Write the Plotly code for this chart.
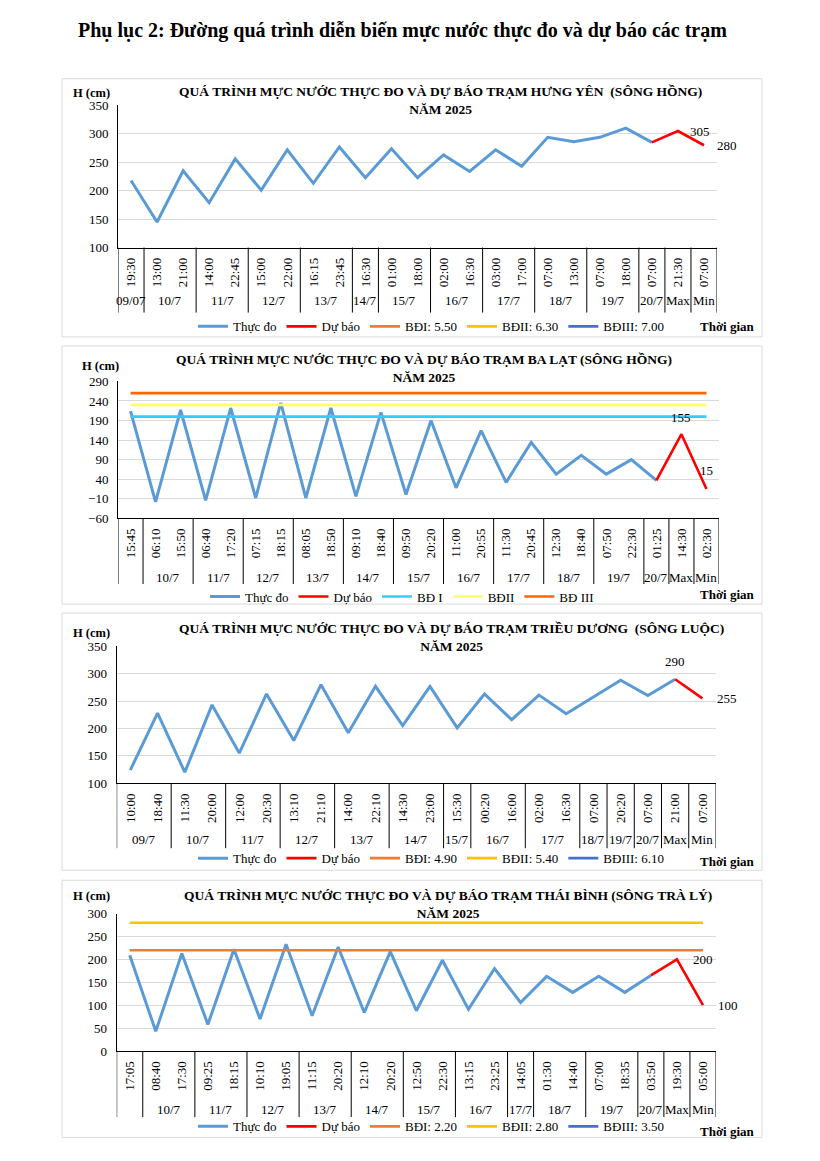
import plotly.graph_objects as go

W, H = 820, 1161          # reference page size
PAD = 8                   # default page body margin
FW, FH = W - 2 * PAD, H - 2 * PAD
# measured vertical calibration of the photographed page (observed = A + B * target)
CAL_A, CAL_B = 7.4, 0.9863
SERIF = "Liberation Serif"

# ---------------- DATA ----------------
main_title = "Phụ lục 2: Đường quá trình diễn biến mực nước thực đo và dự báo các trạm"

# Panel 1 - Hưng Yên (sông Hồng)
hy_title = "QUÁ TRÌNH MỰC NƯỚC THỰC ĐO VÀ DỰ BÁO TRẠM HƯNG YÊN  (SÔNG HỒNG)<br>NĂM 2025"
hy_times = ["19:30", "13:00", "21:00", "14:00", "22:45", "15:00", "22:00", "16:15", "23:45",
            "16:30", "01:00", "18:00", "02:00", "16:30", "03:00", "17:00", "07:00", "13:00",
            "07:00", "18:00", "07:00", "21:30", "07:00"]
hy_dates = ["09/07", "10/7", "10/7", "11/7", "11/7", "12/7", "12/7", "13/7", "13/7",
            "14/7", "15/7", "15/7", "16/7", "16/7", "17/7", "17/7", "18/7", "18/7",
            "19/7", "19/7", "20/7", "Max", "Min"]
hy_measured = [218, 145, 235, 179, 256, 201, 272, 213, 277, 223, 274, 223, 263, 234,
               272, 243, 294, 286, 294, 310, 285, None, None]
hy_forecast = [None] * 20 + [285, 305, 280]
hy_level_names = ["BĐI: 5.50", "BĐII: 6.30", "BĐIII: 7.00"]
hy_levels = [550, 630, 700]

# Panel 2 - Ba Lạt (sông Hồng)
bl_title = "QUÁ TRÌNH MỰC NƯỚC THỰC ĐO VÀ DỰ BÁO TRẠM BA LẠT (SÔNG HỒNG)<br>NĂM 2025"
bl_times = ["15:45", "06:10", "15:50", "06:40", "17:20", "07:15", "18:15", "08:05", "18:50",
            "09:10", "18:40", "09:50", "20:20", "11:00", "20:55", "11:30", "20:45", "12:30",
            "18:40", "07:50", "22:30", "01:25", "14:30", "02:30"]
bl_dates = ["", "10/7", "10/7", "11/7", "11/7", "12/7", "12/7", "13/7", "13/7",
            "14/7", "14/7", "15/7", "15/7", "16/7", "16/7", "17/7", "17/7", "18/7",
            "18/7", "19/7", "19/7", "20/7", "Max", "Min"]
bl_measured = [214, -18, 217, -14, 222, -8, 235, -8, 222, -4, 211, 1, 190, 18, 164, 32,
               134, 53, 101, 53, 90, 37, None, None]
bl_forecast = [None] * 21 + [37, 155, 15]
bl_level_names = ["BĐ I", "BĐII", "BĐ III"]
bl_levels = [200, 230, 260]

# Panel 3 - Triều Dương (sông Luộc)
td_title = "QUÁ TRÌNH MỰC NƯỚC THỰC ĐO VÀ DỰ BÁO TRẠM TRIỀU DƯƠNG  (SÔNG LUỘC)<br>NĂM 2025"
td_times = ["10:00", "18:40", "11:30", "20:00", "12:00", "20:30", "13:10", "21:10", "14:00",
            "22:10", "14:30", "23:00", "15:30", "00:20", "16:00", "02:00", "16:30", "07:00",
            "20:20", "07:00", "21:00", "07:00"]
td_dates = ["09/7", "09/7", "10/7", "10/7", "11/7", "11/7", "12/7", "12/7", "13/7",
            "13/7", "14/7", "14/7", "15/7", "16/7", "16/7", "17/7", "17/7", "18/7",
            "19/7", "20/7", "Max", "Min"]
td_measured = [124, 228, 120, 243, 155, 263, 178, 280, 192, 277, 205, 277, 201, 263,
               216, 261, 227, 258, 288, 260, 290, None]
td_forecast = [None] * 20 + [290, 255]
td_level_names = ["BĐI: 4.90", "BĐII: 5.40", "BĐIII: 6.10"]
td_levels = [490, 540, 610]

# Panel 4 - Thái Bình (sông Trà Lý)
tb_title = "QUÁ TRÌNH MỰC NƯỚC THỰC ĐO VÀ DỰ BÁO TRẠM THÁI BÌNH (SÔNG TRÀ LÝ)<br>NĂM 2025"
tb_times = ["17:05", "08:40", "17:30", "09:25", "18:15", "10:10", "19:05", "11:15", "20:20",
            "12:10", "20:20", "12:50", "22:30", "13:15", "23:25", "14:05", "01:30", "14:40",
            "07:00", "18:35", "03:50", "19:30", "05:00"]
tb_dates = ["", "10/7", "10/7", "11/7", "11/7", "12/7", "12/7", "13/7", "13/7",
            "14/7", "14/7", "15/7", "15/7", "16/7", "16/7", "17/7", "18/7", "18/7",
            "19/7", "19/7", "20/7", "Max", "Min"]
tb_measured = [209, 43, 213, 58, 222, 70, 233, 77, 227, 84, 217, 88, 198, 91, 180, 106,
               163, 128, 163, 128, 165, None, None]
tb_forecast = [None] * 20 + [165, 200, 100]
tb_level_names = ["BĐI: 2.20", "BĐII: 2.80", "BĐIII: 3.50"]
tb_levels = [220, 280, 350]

y_label = "H (cm)"
x_label = "Thời gian"
measured_name = "Thực đo"
forecast_name = "Dự báo"

# ---------------- STYLE / LAYOUT ----------------
panels = [
    dict(title=hy_title, times=hy_times, dates=hy_dates, meas=hy_measured, fc=hy_forecast,
         lnames=hy_level_names, levels=hy_levels, yrange=[100, 350], tick0=100,
         lcolors=["#ED7D31", "#FFC000", "#4472C4"],
         box=(62, 79, 762, 337), plot=(118, 105.7, 717, 247.7), title_xy=(440, 101),
         h_xy=(91, 93), div_bottom=312.7, date_y=301, legend_xy=(431, 326.5), tg_xy=(727, 327),
         lab=[("right", 22, 0), ("right", 23, 0)]),
    dict(title=bl_title, times=bl_times, dates=bl_dates, meas=bl_measured, fc=bl_forecast,
         lnames=bl_level_names, levels=bl_levels, yrange=[-60, 290], tick0=-60,
         lcolors=["#33CCFF", "#FFFF66", "#FF6600"],
         box=(62, 346, 762, 604), plot=(118, 381.5, 719, 518.3), title_xy=(424, 368.5),
         h_xy=(100, 366), div_bottom=584, date_y=577, legend_xy=(402, 596.5), tg_xy=(727, 594),
         lab=[("top", 0, 17), ("top", 0, 18)]),
    dict(title=td_title, times=td_times, dates=td_dates, meas=td_measured, fc=td_forecast,
         lnames=td_level_names, levels=td_levels, yrange=[100, 350], tick0=100,
         lcolors=["#ED7D31", "#FFC000", "#4472C4"],
         box=(62, 613, 762, 870), plot=(116.7, 646.3, 716, 783), title_xy=(451, 637),
         h_xy=(91, 633), div_bottom=848, date_y=839, legend_xy=(431, 858), tg_xy=(727, 861),
         lab=[("top", 0, 18), ("right", 25, 0)]),
    dict(title=tb_title, times=tb_times, dates=tb_dates, meas=tb_measured, fc=tb_forecast,
         lnames=tb_level_names, levels=tb_levels, yrange=[0, 300], tick0=0,
         lcolors=["#ED7D31", "#FFC000", "#4472C4"],
         box=(62, 880, 762, 1137), plot=(116.7, 913.3, 716, 1050.7), title_xy=(448, 904.5),
         h_xy=(91, 896), div_bottom=1116.7, date_y=1109, legend_xy=(431, 1126), tg_xy=(727, 1131),
         lab=[("right", 26, 0), ("right", 25, 0)]),
]


def fx(px):
    return (px - PAD) / FW


def fy(py):
    pc = (py - CAL_A) / CAL_B
    return 1 - (pc - PAD) / FH


fig = go.Figure()
shapes, annotations = [], []
layout_extra = {}

annotations.append(dict(text="<b>" + main_title + "</b>", x=fx(402), y=fy(31), xref="paper",
                        yref="paper", showarrow=False, xanchor="center", yanchor="middle",
                        font=dict(family=SERIF, size=20, color="black")))

for k, p in enumerate(panels):
    sfx = "" if k == 0 else str(k + 1)
    xa, ya = "x" + sfx, "y" + sfx
    leg = "legend" + sfx
    n = len(p["times"])
    idx = list(range(n))
    x0, y0, x1, y1 = p["plot"]

    # box
    bx0, by0, bx1, by1 = p["box"]
    shapes.append(dict(type="rect", xref="paper", yref="paper", x0=fx(bx0), x1=fx(bx1),
                       y0=fy(by1), y1=fy(by0), line=dict(color="#D9D9D9", width=1)))

    fig.add_trace(go.Scatter(x=idx, y=p["meas"], mode="lines", name=measured_name,
                             line=dict(color="#5B9BD5", width=3), xaxis=xa, yaxis=ya,
                             legend=leg, hoverinfo="skip"))
    fig.add_trace(go.Scatter(x=idx, y=p["fc"], mode="lines", name=forecast_name,
                             line=dict(color="#FF0000", width=2.6), xaxis=xa, yaxis=ya,
                             legend=leg, hoverinfo="skip"))
    for nm, lv, col in zip(p["lnames"], p["levels"], p["lcolors"]):
        fig.add_trace(go.Scatter(x=[0, n - 1], y=[lv, lv], mode="lines", name=nm,
                                 line=dict(color=col, width=2.6), xaxis=xa, yaxis=ya,
                                 legend=leg, hoverinfo="skip"))

    layout_extra["xaxis" + sfx] = dict(
        domain=[fx(x0), fx(x1)], anchor=ya, range=[-0.5, n - 0.5], tickmode="array",
        tickvals=idx, ticktext=p["times"], tickangle=-90, showgrid=False, zeroline=False,
        showline=True, linecolor="black", linewidth=1, ticks="", ticklabelstandoff=4,
        tickfont=dict(family=SERIF, size=13, color="black"), fixedrange=True)
    layout_extra["yaxis" + sfx] = dict(
        domain=[fy(y1), fy(y0)], anchor=xa, range=p["yrange"], tick0=p["tick0"], dtick=50,
        showgrid=True, gridcolor="#D9D9D9", gridwidth=1, zeroline=False, showline=True,
        linecolor="black", linewidth=1, ticks="", ticklabelstandoff=6,
        tickfont=dict(family=SERIF, size=13, color="black"), fixedrange=True)

    # group dividers and date labels
    dates = p["dates"]
    starts = [0] + [i for i in range(1, n) if dates[i] != dates[i - 1]]
    ends = starts[1:] + [n]
    for s, e in zip(starts, ends):
        shapes.append(dict(type="line", xref=xa, yref="paper", x0=s - 0.5, x1=s - 0.5,
                           y0=fy(y1), y1=fy(p["div_bottom"]), line=dict(color="black", width=1)))
        if dates[s]:
            annotations.append(dict(text=dates[s], x=(s + e - 1) / 2, xref=xa, y=fy(p["date_y"]),
                                    yref="paper", showarrow=False, xanchor="center",
                                    yanchor="middle",
                                    font=dict(family=SERIF, size=13, color="black")))
    shapes.append(dict(type="line", xref=xa, yref="paper", x0=n - 0.5, x1=n - 0.5,
                       y0=fy(y1), y1=fy(p["div_bottom"]), line=dict(color="black", width=1)))

    # titles
    tx, ty = p["title_xy"]
    annotations.append(dict(text="<b>" + p["title"] + "</b>", x=fx(tx), y=fy(ty), xref="paper",
                            yref="paper", showarrow=False, xanchor="center", yanchor="middle",
                            font=dict(family=SERIF, size=13.5, color="black")))
    hx, hy = p["h_xy"]
    annotations.append(dict(text="<b>" + y_label + "</b>", x=fx(hx), y=fy(hy), xref="paper",
                            yref="paper", showarrow=False, xanchor="center", yanchor="middle",
                            font=dict(family=SERIF, size=12.5, color="black")))
    gx, gy = p["tg_xy"]
    annotations.append(dict(text="<b>" + x_label + "</b>", x=fx(gx), y=fy(gy), xref="paper",
                            yref="paper", showarrow=False, xanchor="center", yanchor="middle",
                            font=dict(family=SERIF, size=13, color="black")))

    # data labels on max / min forecast
    for (pos, dx, dy), i in zip(p["lab"], [n - 2, n - 1]):
        v = p["fc"][i]
        annotations.append(dict(text=str(v), x=i, y=v, xref=xa, yref=ya, showarrow=False,
                                xanchor="center", yanchor="middle", xshift=dx, yshift=dy,
                                font=dict(family=SERIF, size=13, color="black")))

    lx, ly = p["legend_xy"]
    layout_extra[leg] = dict(orientation="h", x=fx(lx), y=fy(ly), xanchor="center",
                             yanchor="middle", bgcolor="rgba(0,0,0,0)", itemwidth=30,
                             font=dict(family=SERIF, size=13, color="black"),
                             itemclick=False, itemdoubleclick=False)

fig.update_layout(width=FW, height=FH, margin=dict(l=0, r=0, t=0, b=0),
                  paper_bgcolor="white", plot_bgcolor="white", showlegend=True,
                  shapes=shapes, annotations=annotations, **layout_extra)

fig.write_html("out.html", config={"displayModeBar": False})
